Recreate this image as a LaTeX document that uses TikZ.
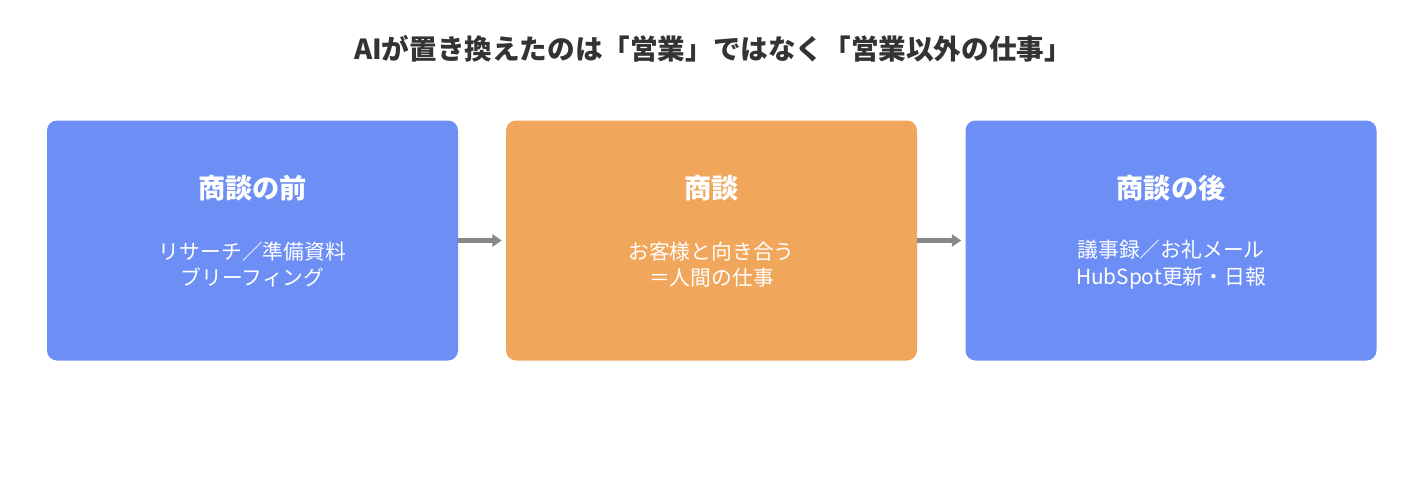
\documentclass[tikz,border=0pt]{standalone}
\usepackage{fontspec}
\setmainfont{Noto Sans CJK JP}
\usepackage{tikz}
\usetikzlibrary{arrows.meta}
\definecolor{stepblue}{HTML}{6C8EF5}
\definecolor{steporange}{HTML}{F0A75B}
\definecolor{arrowgray}{HTML}{888888}
\definecolor{titlegray}{HTML}{333333}
\tikzset{
  stagebox/.style={rounded corners=7.5pt, minimum width=308.25pt, minimum height=180pt, inner sep=0pt},
  stagehead/.style={text=white, font=\fontsize{20.4}{24}\selectfont\bfseries},
  stagebody/.style={text=white, align=center, font=\fontsize{15.6}{19.8}\selectfont},
  flowarrow/.style={draw=arrowgray, line width=3.2pt, -{Triangle[length=7pt,width=9pt]}}
}
\begin{document}
\begin{tikzpicture}[x=0.75pt,y=-0.75pt]
\useasboundingbox (0,0) rectangle (1423,496);

\node [text=titlegray, font=\fontsize{20.7}{25}\selectfont\bfseries] (title) at (713,49) {AIが置き換えたのは「営業」ではなく「営業以外の仕事」};

\node [stagebox, fill=stepblue] (before) at (252.5,240.5) {};
\node [stagebox, fill=steporange] (meeting) at (711.5,240.5) {};
\node [stagebox, fill=stepblue] (after) at (1171,240.5) {};

\node [stagehead] (beforehead) at (252.5,188) {商談の前};
\node [stagehead] (meetinghead) at (711.5,188) {商談};
\node [stagehead] (afterhead) at (1171,188) {商談の後};

\node [stagebody] (beforetext) at (252.5,264.5) {リサーチ／準備資料\\ブリーフィング};
\node [stagebody] (meetingtext) at (711.5,264.5) {お客様と向き合う\\＝人間の仕事};
\node [stagebody] (aftertext) at (1171,264.5) {議事録／お礼メール\\HubSpot更新・日報};

\draw [flowarrow] (before.east) -- ([xshift=-3pt]meeting.west);
\draw [flowarrow] (meeting.east) -- ([xshift=-3pt]after.west);

\end{tikzpicture}
\end{document}
